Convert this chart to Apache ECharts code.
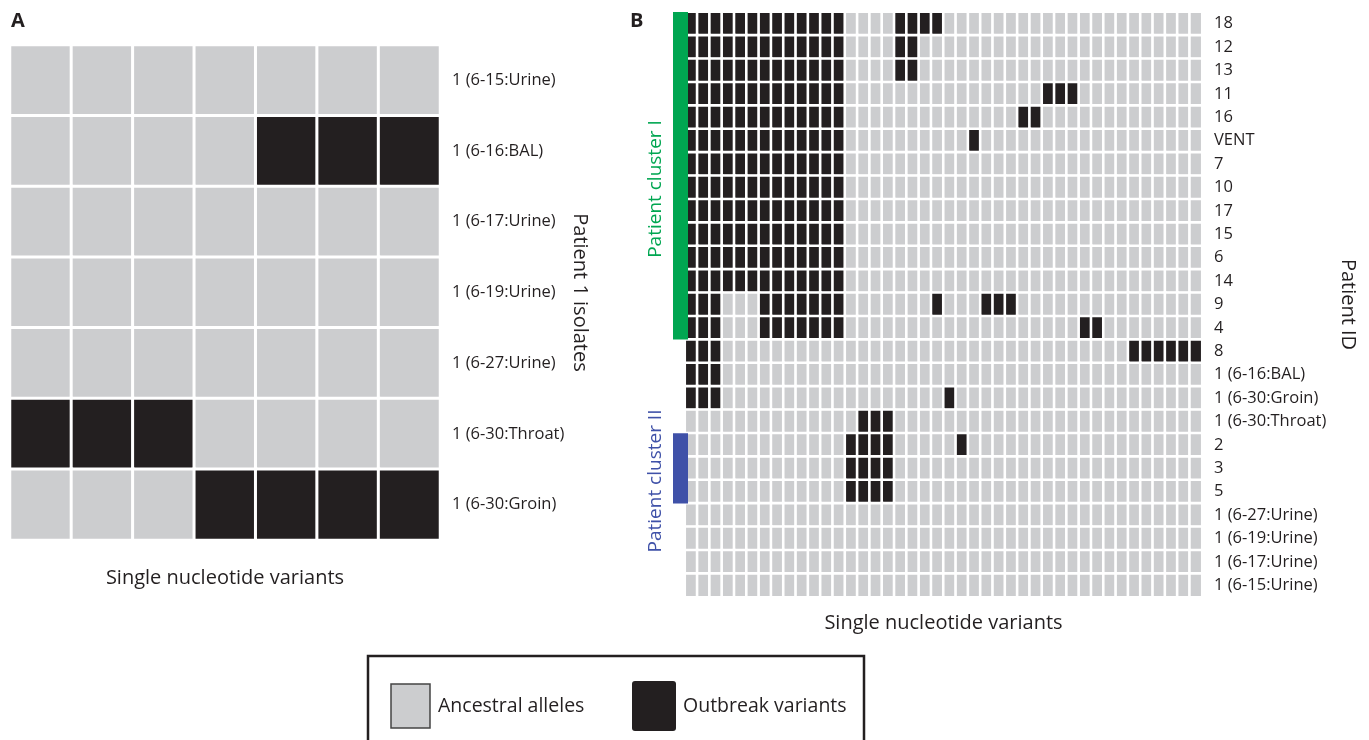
<!DOCTYPE html>
<html lang="en">
<head>
    <meta charset="UTF-8">
    <title>SNV heatmaps</title>
    <script src="https://cdn.jsdelivr.net/npm/echarts@6/dist/echarts.min.js"></script>
    <style>
        html, body { margin: 0; padding: 0; background: #fff; }
        #main { width: 1369px; height: 740px; }
    </style>
</head>
<body>
    <div id="main"></div>
    <script>
        // panel A: patient 1 isolates, 7 variants
        let colsA = 7;
        let rowsA = ['1 (6-15:Urine)', '1 (6-16:BAL)', '1 (6-17:Urine)', '1 (6-19:Urine)',
            '1 (6-27:Urine)', '1 (6-30:Throat)', '1 (6-30:Groin)'];
        let variantsA = [[], [4, 5, 6], [], [], [], [0, 1, 2], [3, 4, 5, 6]];

        // panel B: all patients, 42 variants
        let colsB = 42;
        let rowsB = ['18', '12', '13', '11', '16', 'VENT', '7', '10', '17', '15', '6', '14', '9', '4', '8',
            '1 (6-16:BAL)', '1 (6-30:Groin)', '1 (6-30:Throat)', '2', '3', '5',
            '1 (6-27:Urine)', '1 (6-19:Urine)', '1 (6-17:Urine)', '1 (6-15:Urine)'];
        let core = [0, 1, 2, 3, 4, 5, 6, 7, 8, 9, 10, 11, 12];
        let variantsB = [
            core.concat([17, 18, 19, 20]),
            core.concat([17, 18]),
            core.concat([17, 18]),
            core.concat([29, 30, 31]),
            core.concat([27, 28]),
            core.concat([23]),
            core, core, core, core, core, core,
            [0, 1, 2, 6, 7, 8, 9, 10, 11, 12, 20, 24, 25, 26],
            [0, 1, 2, 6, 7, 8, 9, 10, 11, 12, 32, 33],
            [0, 1, 2, 36, 37, 38, 39, 40, 41],
            [0, 1, 2],
            [0, 1, 2, 21],
            [14, 15, 16],
            [13, 14, 15, 16, 22],
            [13, 14, 15, 16],
            [13, 14, 15, 16],
            [], [], [], []
        ];

        let clusters = [
            {name: 'Patient cluster I', from: '18', to: '4', color: '#00a651', labelY: 189},
            {name: 'Patient cluster II', from: '2', to: '5', color: '#3f51a8', labelY: 481}
        ];

        let gray = '#cccdcf';
        let black = '#231f20';
        let font = '"Open Sans", "Noto Sans", sans-serif';

        function cells(nCols, rows, variants) {
            let out = [];
            for (let r = 0; r < rows.length; r++) {
                for (let c = 0; c < nCols; c++) {
                    out.push([c, r, variants[r].indexOf(c) >= 0 ? 1 : 0]);
                }
            }
            return out;
        }

        function range(n) {
            let a = [];
            for (let i = 0; i < n; i++) a.push(i);
            return a;
        }

        let chart = echarts.init(document.getElementById('main'));

        let xAxisBase = {
            type: 'category',
            axisLine: {show: false},
            axisTick: {show: false},
            axisLabel: {show: false},
            splitLine: {show: false},
            nameLocation: 'middle',
            nameTextStyle: {fontFamily: font, fontSize: 20, color: black}
        };
        let yAxisBase = {
            type: 'category',
            inverse: true,
            position: 'right',
            axisLine: {show: false},
            axisTick: {show: false},
            splitLine: {show: false},
            nameLocation: 'middle',
            nameRotate: -90,
            nameTextStyle: {fontFamily: font, fontSize: 20, color: black},
            axisLabel: {fontFamily: font, fontSize: 16.5, color: black, margin: 12, align: 'left'}
        };

        chart.setOption({
            animation: false,
            grid: [
                {left: 10, top: 45, width: 430, height: 495},
                {left: 685, top: 12, width: 517, height: 585}
            ],
            xAxis: [
                Object.assign({}, xAxisBase, {gridIndex: 0, data: range(colsA), name: 'Single nucleotide variants', nameGap: 28}),
                Object.assign({}, xAxisBase, {gridIndex: 1, data: range(colsB), name: 'Single nucleotide variants', nameGap: 16})
            ],
            yAxis: [
                Object.assign({}, yAxisBase, {gridIndex: 0, data: rowsA, name: 'Patient 1 isolates', nameGap: 130}),
                Object.assign({}, yAxisBase, {gridIndex: 1, data: rowsB, name: 'Patient ID', nameGap: 136})
            ],
            visualMap: {
                show: false,
                type: 'piecewise',
                dimension: 2,
                pieces: [{value: 0, color: gray}, {value: 1, color: black}]
            },
            series: [
                {
                    type: 'heatmap', xAxisIndex: 0, yAxisIndex: 0,
                    data: cells(colsA, rowsA, variantsA),
                    itemStyle: {borderColor: '#fff', borderWidth: 3},
                    emphasis: {disabled: true}
                },
                {
                    type: 'heatmap', xAxisIndex: 1, yAxisIndex: 1,
                    data: cells(colsB, rowsB, variantsB),
                    itemStyle: {borderColor: '#fff', borderWidth: 2.6},
                    emphasis: {disabled: true}
                }
            ]
        });

        // cluster bars + panel letters + legend box
        let graphics = [
            {type: 'text', x: 11, y: 11, style: {text: 'A', font: 'bold 20px ' + font, fill: black}},
            {type: 'text', x: 630, y: 11, style: {text: 'B', font: 'bold 20px ' + font, fill: black}}
        ];
        let pitch = chart.convertToPixel({gridIndex: 1}, [0, 1])[1] - chart.convertToPixel({gridIndex: 1}, [0, 0])[1];
        clusters.forEach(function (cl) {
            let p0 = chart.convertToPixel({gridIndex: 1}, [0, rowsB.indexOf(cl.from)]);
            let p1 = chart.convertToPixel({gridIndex: 1}, [0, rowsB.indexOf(cl.to)]);
            let top = p0[1] - pitch / 2;
            let bottom = p1[1] + pitch / 2;
            graphics.push({
                type: 'rect', z: 100,
                shape: {x: 673, y: top, width: 15, height: bottom - top},
                style: {fill: cl.color}
            });
            graphics.push({
                type: 'text', z: 100, x: 656, y: cl.labelY, rotation: Math.PI / 2,
                style: {text: cl.name, font: '19px ' + font, fill: cl.color, align: 'center', verticalAlign: 'middle'}
            });
        });
        graphics.push(
            {type: 'rect', shape: {x: 368, y: 656, width: 496, height: 100}, style: {fill: '#fff', stroke: black, lineWidth: 2.5}},
            {type: 'rect', shape: {x: 391, y: 684, width: 39, height: 44}, style: {fill: gray, stroke: '#444', lineWidth: 1.5}},
            {type: 'text', x: 438, y: 706, style: {text: 'Ancestral alleles', font: '19.5px ' + font, fill: black, verticalAlign: 'middle'}},
            {type: 'rect', shape: {x: 632, y: 681, width: 44, height: 50, r: 3}, style: {fill: black}},
            {type: 'text', x: 683, y: 706, style: {text: 'Outbreak variants', font: '19.5px ' + font, fill: black, verticalAlign: 'middle'}}
        );
        chart.setOption({graphic: graphics});
    </script>
</body>
</html>
